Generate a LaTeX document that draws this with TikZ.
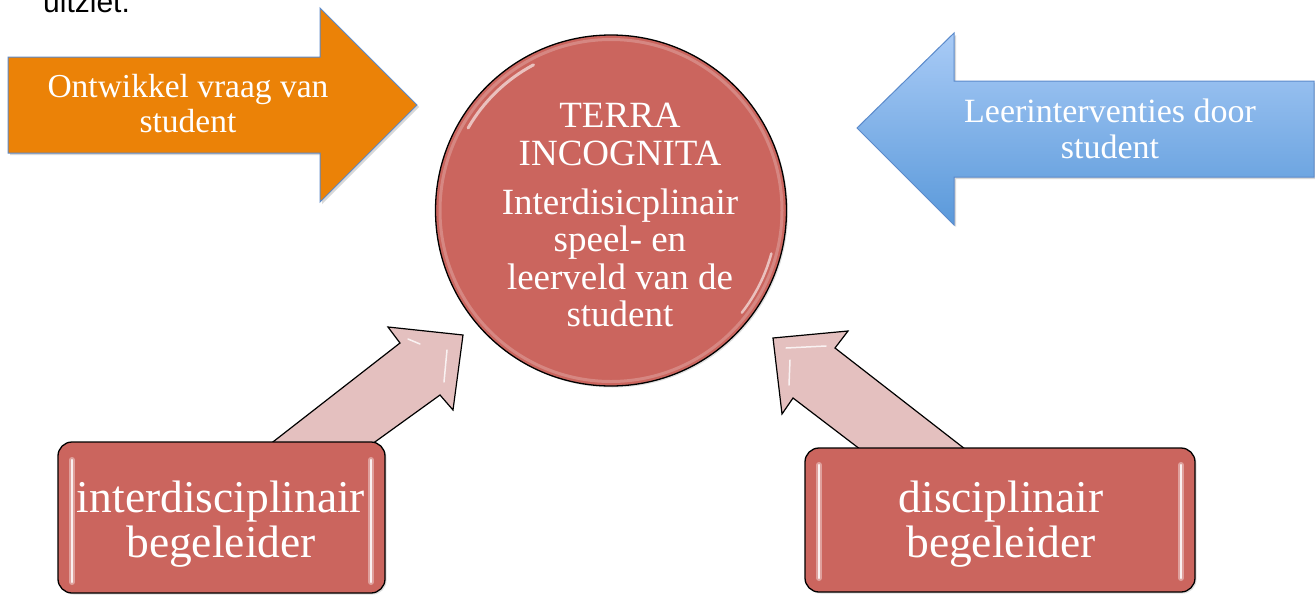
\documentclass[tikz,border=0pt]{standalone}
\usepackage{fontspec}
\setmainfont{Liberation Serif}
\setsansfont{Liberation Sans}
\usetikzlibrary{shadows}
\definecolor{orangeA}{HTML}{EB8207}
\definecolor{redA}{HTML}{CB655E}
\definecolor{pinkA}{HTML}{E4C0BF}
\definecolor{blueTop}{HTML}{A9CBF6}
\definecolor{blueBot}{HTML}{5A99DA}
\definecolor{edgeBlue}{HTML}{5B8ACB}
\tikzset{
  whitetext/.style={text=white, align=center, inner sep=0pt},
  redbox/.style={draw=black, line width=1.3pt, fill=redA, rounded corners=14pt,
    drop shadow={opacity=0.25, shadow xshift=1.5pt, shadow yshift=-1.5pt}},
  pinkarrow/.style={draw=black, line width=1.2pt, fill=pinkA, line join=miter},
  glint/.style={white, line width=2.5pt, opacity=0.85, line cap=round},
  halo/.style={redA!45!white, line width=6pt, opacity=0.7, line cap=round},
  bigarrow/.style={draw=edgeBlue, line width=1pt, line join=miter,
    drop shadow={opacity=0.3, shadow xshift=2pt, shadow yshift=-2pt}}
}
\begin{document}
\begin{tikzpicture}[x=1pt,y=-1pt]
\useasboundingbox (0,0) rectangle (1315,595);
\fill[white] (0,0) rectangle (1315,595);

% partly visible text at the top
\node[font=\sffamily\fontsize{30}{36}\selectfont, anchor=base west, inner sep=0pt] (intro) at (43,12) {uitziet.};

% pink connector arrows (behind boxes)
\draw[pinkarrow] (260,452) -- (400,343) -- (388,327) -- (463,335) -- (453,410) -- (440,395) -- (361,452) -- cycle;
\draw[white, opacity=.8, line width=1.5pt, line cap=round] (408,339) -- (420,344);
\draw[white, opacity=.8, line width=1.5pt, line cap=round] (447,350) -- (444,382);
\draw[pinkarrow] (869,456) -- (793,398) -- (782,414) -- (773,338) -- (848,331) -- (835,348) -- (974,456) -- cycle;
\draw[white, opacity=.8, line width=1.5pt, line cap=round] (786,348) -- (826,346);
\draw[white, opacity=.8, line width=1.5pt, line cap=round] (790,360) -- (789,385);

% boxes
\node[redbox, minimum width=327pt, minimum height=151pt] (lbox) at (221.5,517.5) {};
\draw[halo] (72,460) -- (72,582);
\draw[halo] (371,460) -- (371,582);
\draw[glint] (72,460) -- (72,582);
\draw[glint] (371,460) -- (371,582);
\node[whitetext, font=\fontsize{45.5}{45}\selectfont] (ltext) at (221,524) {interdisciplinair\\begeleider};

\node[redbox, minimum width=390pt, minimum height=144pt] (rbox) at (1000,520) {};
\draw[halo] (819,465) -- (819,578);
\draw[halo] (1181,465) -- (1181,578);
\draw[glint] (819,465) -- (819,578);
\draw[glint] (1181,465) -- (1181,578);
\node[whitetext, font=\fontsize{45.5}{45}\selectfont] (rtext) at (1001,524) {disciplinair\\begeleider};

% central circle
\node[circle, draw=black, line width=1.3pt, fill=redA, minimum size=351pt, inner sep=0pt,
  drop shadow={opacity=0.25, shadow xshift=1.5pt, shadow yshift=-1.5pt}] (terra) at (611,210.5) {};
\draw[redA!55!white, line width=3pt, opacity=.5] (terra.center) circle[radius=171pt];
\draw[white, line width=3pt, opacity=.6, line cap=round] (terra.center) ++(118:165pt) arc[start angle=118, end angle=150, radius=165pt];
\draw[white, line width=2.5pt, opacity=.6, line cap=round] (terra.center) ++(-15:166pt) arc[start angle=-15, end angle=-38, radius=166pt];
\node[whitetext, font=\fontsize{37}{37.5}\selectfont] (ttext) at (620,215)
  {TERRA\\INCOGNITA\\[11.5pt]Interdisicplinair\\speel- en\\leerveld van de\\student};

% orange arrow
\draw[bigarrow, fill=orangeA] (8,57) -- (320,57) -- (320,8) -- (417,105) -- (320,202) -- (320,153) -- (8,153) -- cycle;
\node[whitetext, font=\fontsize{33.5}{35}\selectfont] (otext) at (188,104) {Ontwikkel vraag van\\student};

% blue arrow
\draw[bigarrow, top color=blueTop, bottom color=blueBot] (1314,81) -- (954,81) -- (954,33) -- (857,128) -- (954,225) -- (954,177) -- (1314,177) -- cycle;
\node[whitetext, font=\fontsize{34}{36}\selectfont] (btext) at (1110,128.5) {Leerinterventies door\\student};
\end{tikzpicture}
\end{document}
